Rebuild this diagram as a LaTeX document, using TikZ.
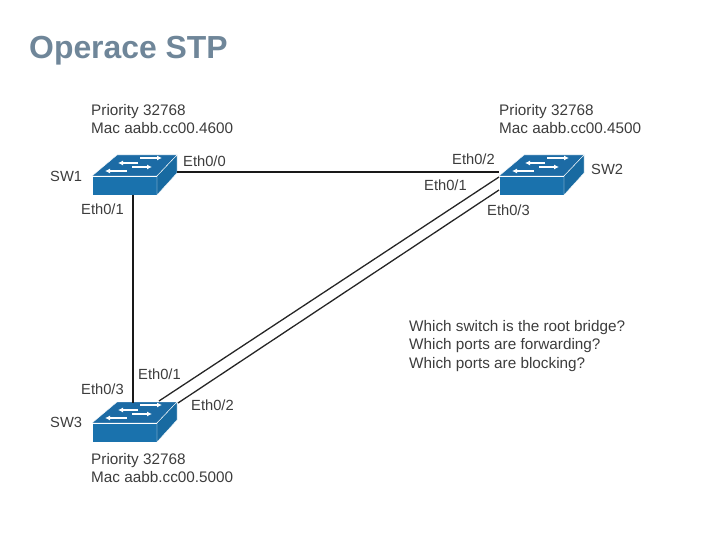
\documentclass[tikz,border=0pt]{standalone}
\usepackage{fontspec}
\setmainfont{Liberation Sans}
\usetikzlibrary{arrows.meta,positioning}
\definecolor{swblue}{HTML}{1A72AD}
\definecolor{swtop}{HTML}{1C6BA5}
\definecolor{titlegray}{HTML}{6F8699}
\definecolor{labelgray}{HTML}{3C3C3C}
\tikzset{
  label/.style={inner sep=0pt, anchor=west, text=labelgray, font=\fontsize{14.7}{18}\selectfont},
  info/.style={label, align=left, font=\fontsize{15.3}{18.5}\selectfont},
  link/.style={draw=black!85, line width=1.3pt},
  thicklink/.style={draw=black!90, line width=2pt},
  swarrow/.style={-{Latex[length=5pt,width=5pt]}, draw=white, line width=1.2pt},
  switch/.pic={
    \fill[swtop, draw=white, line width=0.4pt] (0,0) -- (25,-21) -- (85,-21) -- (65,0) -- cycle;
    \fill[swblue, draw=white, line width=0.4pt] (0,0) rectangle (65,19);
    \fill[swblue!93!black, draw=white, line width=0.4pt] (65,0) -- (85,-21) -- (85,-3) -- (65,19) -- cycle;
    \draw[swarrow] (48,-18) -- (70,-18);
    \draw[swarrow] (46,-13) -- (26,-13);
    \draw[swarrow] (40,-9) -- (60,-9);
    \draw[swarrow] (35,-5) -- (13,-5);
    \coordinate (-east) at (85,-4);
    \coordinate (-west) at (0,-4);
    \coordinate (-south) at (41,19);
    \coordinate (-north) at (41,-20);
    \coordinate (-wupper) at (0,1);
    \coordinate (-wlower) at (0,14);
    \coordinate (-nupper) at (67,-22);
    \coordinate (-nlower) at (86,-20);
  }
}
\begin{document}
\begin{tikzpicture}[x=1pt,y=-1pt]
  \useasboundingbox (0,0) rectangle (720,540);
  \node[inner sep=0pt, anchor=west, text=titlegray, font=\fontsize{31.9}{36}\selectfont\bfseries] (title) at (29,51) {Operace STP};

  \pic (sw1) at (92,176) {switch};
  \pic (sw2) at (499,176) {switch};
  \pic (sw3) at (92,423) {switch};

  \draw[thicklink] (sw1-east) -- (sw2-west);
  \draw[thicklink] (sw1-south) -- (sw3-north);
  \draw[link] (sw3-nupper) -- (sw2-wupper);
  \draw[link] (sw3-nlower) -- (sw2-wlower);

  \node[info] (info1) at (91,119) {Priority 32768\\Mac aabb.cc00.4600};
  \node[info] (info2) at (499,119) {Priority 32768\\Mac aabb.cc00.4500};
  \node[info] (info3) at (91,468) {Priority 32768\\Mac aabb.cc00.5000};

  \node[label] (name1) at (50,176) {SW1};
  \node[label] (name2) at (591,169) {SW2};
  \node[label] (name3) at (50,422) {SW3};

  \node[label] (p1a) at (183,161) {Eth0/0};
  \node[label] (p1b) at (81,209) {Eth0/1};
  \node[label] (p2a) at (452,159) {Eth0/2};
  \node[label] (p2b) at (424,185) {Eth0/1};
  \node[label] (p2c) at (487,210) {Eth0/3};
  \node[label] (p3a) at (138,374) {Eth0/1};
  \node[label] (p3b) at (81,389) {Eth0/3};
  \node[label] (p3c) at (191,405) {Eth0/2};

  \node[info] (questions) at (409,346) {Which switch is the root bridge?\\Which ports are forwarding?\\Which ports are blocking?};
\end{tikzpicture}
\end{document}
